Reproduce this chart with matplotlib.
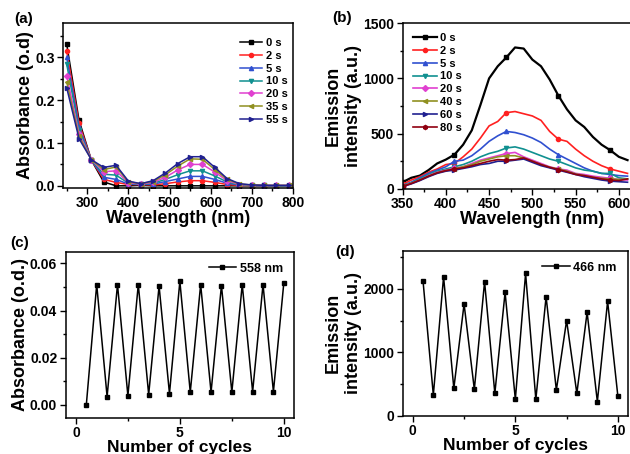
import matplotlib.pyplot as plt
from matplotlib.ticker import MultipleLocator

plt.rcParams['font.family'] = ['Liberation Sans', 'DejaVu Sans']
plt.rcParams['font.weight'] = 'bold'
plt.rcParams['axes.labelweight'] = 'bold'

# --- (a) absorbance spectra ---
abs_wl = [250, 280, 310, 340, 370, 400, 430, 460, 490, 520, 550, 580, 610, 640, 670, 700, 730, 760, 790]
abs_labels = ['0 s', '2 s', '5 s', '10 s', '20 s', '35 s', '55 s']
abs_0 = [0.331, 0.153, 0.060, 0.009, 0.000, 0.000, 0.001, 0.000, 0.000, 0.000, 0.000, 0.000, 0.000, 0.000, 0.000, 0.000, 0.000, 0.000, 0.000]
abs_2 = [0.315, 0.146, 0.060, 0.015, 0.008, 0.003, 0.003, 0.002, 0.005, 0.009, 0.012, 0.012, 0.008, 0.003, 0.001, 0.001, 0.000, 0.000, 0.000]
abs_5 = [0.300, 0.138, 0.060, 0.020, 0.015, 0.004, 0.003, 0.004, 0.010, 0.016, 0.022, 0.022, 0.015, 0.006, 0.002, 0.001, 0.000, 0.000, 0.000]
abs_10 = [0.284, 0.130, 0.060, 0.027, 0.025, 0.006, 0.004, 0.006, 0.015, 0.026, 0.035, 0.035, 0.023, 0.009, 0.002, 0.001, 0.001, 0.000, 0.000]
abs_20 = [0.257, 0.122, 0.061, 0.033, 0.035, 0.007, 0.004, 0.008, 0.020, 0.037, 0.050, 0.050, 0.032, 0.012, 0.003, 0.002, 0.001, 0.001, 0.001]
abs_35 = [0.242, 0.116, 0.061, 0.038, 0.044, 0.009, 0.005, 0.010, 0.026, 0.046, 0.063, 0.062, 0.038, 0.015, 0.004, 0.002, 0.001, 0.001, 0.001]
abs_55 = [0.229, 0.110, 0.061, 0.043, 0.048, 0.011, 0.005, 0.012, 0.030, 0.052, 0.068, 0.068, 0.043, 0.017, 0.005, 0.002, 0.001, 0.001, 0.001]

# --- (b) emission spectra (every 10 nm) ---
em_wl = list(range(350, 620, 10))
em_labels = ['0 s', '2 s', '5 s', '10 s', '20 s', '40 s', '60 s', '80 s']
em_0 = [60, 100, 120, 170, 230, 265, 310, 400, 530, 760, 1000, 1110, 1190, 1280, 1270, 1170, 1110, 990, 845, 720, 620, 560, 470, 400, 350, 290, 260]
em_2 = [40, 80, 110, 150, 180, 220, 230, 290, 360, 460, 570, 610, 690, 700, 680, 660, 620, 520, 450, 430, 360, 300, 250, 210, 180, 160, 140]
em_5 = [30, 60, 100, 140, 170, 200, 250, 260, 300, 360, 430, 480, 520, 510, 490, 460, 420, 360, 310, 270, 230, 190, 160, 140, 130, 120, 115]
em_10 = [30, 55, 90, 130, 160, 180, 200, 220, 250, 290, 320, 340, 370, 380, 360, 330, 300, 270, 250, 220, 190, 170, 160, 140, 140, 100, 90]
em_20 = [28, 50, 80, 120, 150, 170, 185, 200, 230, 260, 280, 300, 320, 330, 290, 260, 230, 200, 180, 170, 140, 130, 115, 105, 95, 85, 80]
em_40 = [25, 50, 80, 115, 145, 165, 180, 200, 220, 250, 270, 290, 300, 300, 280, 250, 220, 195, 180, 160, 135, 120, 105, 95, 90, 85, 90]
em_60 = [20, 45, 75, 110, 140, 160, 170, 185, 200, 220, 230, 250, 250, 260, 270, 240, 210, 190, 170, 150, 130, 110, 95, 80, 70, 65, 60]
em_80 = [22, 48, 80, 115, 145, 165, 180, 190, 210, 230, 250, 265, 260, 265, 280, 250, 220, 195, 175, 155, 130, 120, 105, 90, 80, 75, 90]

# --- (c), (d) cycling ---
cycles = [0.5, 1, 1.5, 2, 2.5, 3, 3.5, 4, 4.5, 5, 5.5, 6, 6.5, 7, 7.5, 8, 8.5, 9, 9.5, 10]
abs_558 = [0.0, 0.051, 0.0035, 0.051, 0.0039, 0.051, 0.0044, 0.0504, 0.0048, 0.0524, 0.0054, 0.051,
           0.0054, 0.0506, 0.0054, 0.051, 0.0056, 0.051, 0.0056, 0.0517]
em_466 = [2115, 328, 2188, 432, 1760, 417, 2110, 354, 1943, 260, 2240, 260, 1875, 406, 1500, 354,
          1630, 224, 1802, 312]

colors = ['black', '#ff2020', '#3050d0', '#109090', '#e040d0', '#909020', '#202090', '#900010']
markers = ['s', 'o', '^', 'v', 'D', '<', '>', 'h']

fig = plt.figure(figsize=(6.3, 4.54), dpi=100)
ax1 = fig.add_axes([0.100, 0.586, 0.365, 0.363])
ax2 = fig.add_axes([0.639, 0.584, 0.412, 0.365])
ax3 = fig.add_axes([0.104, 0.080, 0.363, 0.366])
ax4 = fig.add_axes([0.639, 0.084, 0.358, 0.364])


def style(ax):
    ax.tick_params(which='both', direction='out', labelsize=10, width=1, pad=2)
    ax.tick_params(which='major', length=4)
    ax.tick_params(which='minor', length=2)
    for s in ax.spines.values():
        s.set_linewidth(1.1)
    for lab in ax.get_xticklabels() + ax.get_yticklabels():
        lab.set_fontweight('bold')


# (a)
abs_series = [abs_0, abs_2, abs_5, abs_10, abs_20, abs_35, abs_55]
for i, ys in enumerate(abs_series):
    ax1.plot(abs_wl, ys, color=colors[i], marker=markers[i], ms=3, lw=1.1, label=abs_labels[i])
ax1.set_xlim(241, 800)
ax1.set_ylim(-0.005, 0.38)
ax1.xaxis.set_major_locator(MultipleLocator(100))
ax1.xaxis.set_minor_locator(MultipleLocator(50))
ax1.yaxis.set_major_locator(MultipleLocator(0.1))
ax1.yaxis.set_minor_locator(MultipleLocator(0.05))
ax1.set_xlabel('Wavelength (nm)', fontsize=13, labelpad=0)
ax1.set_ylabel('Absorbance (o.d)', fontsize=13, labelpad=1)
ax1.legend(loc='upper right', bbox_to_anchor=(1.02, 0.97), frameon=False,
           handlelength=2.0, labelspacing=0.25, handletextpad=0.3,
           prop={'weight': 'bold', 'size': 8})
style(ax1)

# (b)
em_series = [em_0, em_2, em_5, em_10, em_20, em_40, em_60, em_80]
for i, ys in enumerate(em_series):
    lw = 1.6 if i == 0 else 1.2
    ax2.plot(em_wl, ys, color=colors[i], marker=markers[i], ms=3, lw=lw, markevery=6,
             label=em_labels[i])
ax2.set_xlim(350, 650)
ax2.set_ylim(0, 1500)
ax2.xaxis.set_major_locator(MultipleLocator(50))
ax2.xaxis.set_minor_locator(MultipleLocator(25))
ax2.yaxis.set_major_locator(MultipleLocator(500))
ax2.yaxis.set_minor_locator(MultipleLocator(250))
ax2.set_xlabel('Wavelength (nm)', fontsize=13, labelpad=0)
ax2.set_ylabel('Emission\nintensity (a.u.)', fontsize=13, labelpad=1)
ax2.legend(loc='upper left', bbox_to_anchor=(0.0, 1.0), frameon=False,
           handlelength=2.2, labelspacing=0.25, handletextpad=0.3,
           prop={'weight': 'bold', 'size': 8})
style(ax2)

# (c)
ax3.plot(cycles, abs_558, color='black', marker='s', ms=3, lw=1.1, label='558 nm')
ax3.set_xlim(-0.5, 10.5)
ax3.set_ylim(-0.0054, 0.065)
ax3.xaxis.set_major_locator(MultipleLocator(5))
ax3.xaxis.set_minor_locator(MultipleLocator(2.5))
ax3.yaxis.set_major_locator(MultipleLocator(0.02))
ax3.yaxis.set_minor_locator(MultipleLocator(0.01))
ax3.yaxis.set_major_formatter(plt.FormatStrFormatter('%.2f'))
ax3.set_xlabel('Number of cycles', fontsize=12.5, labelpad=0)
ax3.set_ylabel('Absorbance (o.d.)', fontsize=13, labelpad=1)
ax3.legend(loc='upper right', frameon=False, handlelength=2.2, handletextpad=0.3,
           prop={'weight': 'bold', 'size': 9})
style(ax3)

# (d)
ax4.plot(cycles, em_466, color='black', marker='s', ms=3, lw=1.1, label='466 nm')
ax4.set_xlim(-0.5, 10.5)
ax4.set_ylim(0, 2600)
ax4.xaxis.set_major_locator(MultipleLocator(5))
ax4.xaxis.set_minor_locator(MultipleLocator(2.5))
ax4.yaxis.set_major_locator(MultipleLocator(1000))
ax4.yaxis.set_minor_locator(MultipleLocator(500))
ax4.set_xlabel('Number of cycles', fontsize=12.5, labelpad=0)
ax4.set_ylabel('Emission\nintensity (a.u.)', fontsize=13, labelpad=1)
ax4.legend(loc='upper right', frameon=False, handlelength=2.2, handletextpad=0.3,
           prop={'weight': 'bold', 'size': 9})
style(ax4)

# panel letters
for lbl, x, y in [('(a)', 14, 19), ('(b)', 332, 18), ('(c)', 10, 243), ('(d)', 335, 252)]:
    fig.text(x / 630, 1 - y / 454, lbl, fontsize=11, fontweight='bold', ha='left', va='center')

fig.savefig('out.png', dpi=100)
